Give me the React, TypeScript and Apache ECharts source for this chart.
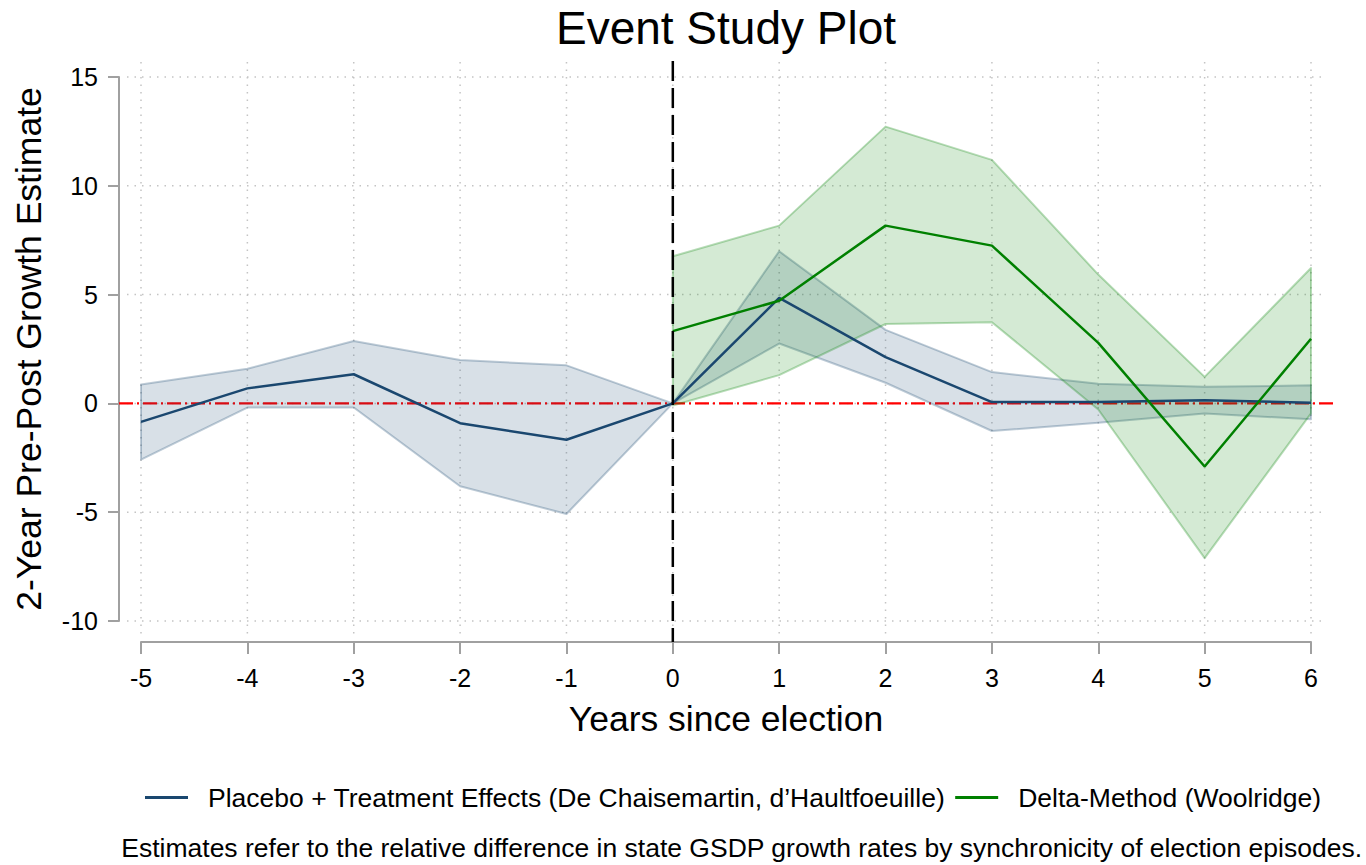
import React, { useEffect, useRef } from "react";
import * as echarts from "echarts";

// Event time (years relative to the election)
const years = [-5, -4, -3, -2, -1, 0, 1, 2, 3, 4, 5, 6];
// Placebo + treatment effects (de Chaisemartin & d'Haultfoeuille) with CI bounds
const placeboEst = [-0.85, 0.69, 1.34, -0.91, -1.67, 0, 4.85, 2.13, 0.06, 0.06, 0.14, 0.03];
const placeboLo = [-2.58, -0.19, -0.19, -3.81, -5.08, 0, 2.75, 0.95, -1.27, -0.89, -0.46, -0.73];
const placeboHi = [0.87, 1.59, 2.87, 1.99, 1.75, 0, 6.99, 3.38, 1.44, 0.9, 0.76, 0.83];

// Delta-method estimates (Woolridge) with CI bounds
const deltaYears = [0, 1, 2, 3, 4, 5, 6];
const deltaEst = [3.32, 4.72, 8.17, 7.25, 2.78, -2.9, 2.97];
const deltaLo = [-0.1, 1.3, 3.65, 3.73, -0.28, -7.11, -0.46];
const deltaHi = [6.76, 8.17, 12.72, 11.19, 5.92, 1.22, 6.22];

const yTicks = [-10, -5, 0, 5, 10, 15];
const xTicks = years;

const placeboName = "Placebo + Treatment Effects (De Chaisemartin, d\u2019Haultfoeuille)";
const deltaName = "Delta-Method (Woolridge)";

const FONT = "'Liberation Sans', Arial, sans-serif";
const NAVY = "#1a476f";
const GREEN = "#008000";
const AXIS_GRAY = "#a0a0a0";

const GRID = { left: 141, right: 55, top: 77, bottom: 244 };
const Y_OFFSET = 22;
const X_OFFSET = 21;

function bandSeries(xs: number[], lo: number[], hi: number[], fill: string, stroke: string, z: number) {
  return {
    type: "custom",
    z,
    silent: true,
    clip: false,
    data: xs.map((x, i) => [x, lo[i], hi[i]]),
    encode: { x: 0, y: [1, 2] },
    renderItem: (params: any, api: any) => {
      if (params.dataIndex !== 0) return null;
      const upper = xs.map((x, i) => api.coord([x, hi[i]]));
      const lower = xs.map((x, i) => api.coord([x, lo[i]])).reverse();
      return {
        type: "polygon",
        shape: { points: [...upper, ...lower] },
        style: { fill, stroke, lineWidth: 2, lineJoin: "round" },
      };
    },
  };
}

export default function App() {
  const ref = useRef<HTMLDivElement>(null);

  useEffect(() => {
    if (!ref.current) return;
    const chart = echarts.init(ref.current, null, { renderer: "svg" });

    const option: any = {
      animation: false,
      backgroundColor: "#ffffff",
      textStyle: { fontFamily: FONT },
      grid: { ...GRID },
      xAxis: {
        type: "value",
        min: -5,
        max: 6,
        interval: 1,
        offset: X_OFFSET,
        name: "Years since election",
        nameLocation: "middle",
        nameGap: 59,
        nameTextStyle: { fontSize: 35.5, color: "#000", fontFamily: FONT },
        axisLine: { show: true, onZero: false, lineStyle: { color: AXIS_GRAY, width: 2 } },
        axisTick: { show: true, length: 12, lineStyle: { color: AXIS_GRAY, width: 2 } },
        axisLabel: { fontSize: 25, color: "#000", margin: 23, fontFamily: FONT },
        splitLine: { show: false },
      },
      yAxis: {
        type: "value",
        min: -10,
        max: 15,
        interval: 5,
        offset: Y_OFFSET,
        name: "2-Year Pre-Post Growth Estimate",
        nameLocation: "middle",
        nameRotate: 90,
        nameGap: 72,
        nameTextStyle: { fontSize: 35.5, color: "#000", fontFamily: FONT },
        axisLine: { show: true, onZero: false, lineStyle: { color: AXIS_GRAY, width: 2 } },
        axisTick: { show: true, length: 11, lineStyle: { color: AXIS_GRAY, width: 2 } },
        axisLabel: { fontSize: 25, color: "#000", margin: 21, fontFamily: FONT },
        splitLine: { show: false },
      },
      legend: {
        data: [placeboName, deltaName],
        left: 140,
        top: 779,
        icon: "rect",
        itemWidth: 43,
        itemHeight: 3,
        itemGap: 10,
        selectedMode: false,
        textStyle: { fontSize: 26.5, color: "#000", fontFamily: FONT, padding: [0, 0, 0, 15] },
      },
      series: [
        bandSeries(years, placeboLo, placeboHi, "rgba(26,71,111,0.17)", "rgba(26,71,111,0.28)", 2),
        bandSeries(deltaYears, deltaLo, deltaHi, "rgba(0,128,0,0.17)", "rgba(0,128,0,0.28)", 2),
        {
          name: placeboName,
          type: "line",
          z: 3,
          data: years.map((x, i) => [x, placeboEst[i]]),
          showSymbol: false,
          symbol: "none",
          itemStyle: { color: NAVY },
          lineStyle: { color: NAVY, width: 2.5 },
        },
        {
          name: deltaName,
          type: "line",
          z: 3,
          data: deltaYears.map((x, i) => [x, deltaEst[i]]),
          showSymbol: false,
          symbol: "none",
          itemStyle: { color: GREEN },
          lineStyle: { color: GREEN, width: 2.5 },
        },
      ],
    };

    chart.setOption(option);

    const px = (x: number, y: number) => chart.convertToPixel({ gridIndex: 0 }, [x, y]) as number[];
    const xMin = xTicks[0];
    const xMax = xTicks[xTicks.length - 1];
    const yMin = yTicks[0];
    const yMax = yTicks[yTicks.length - 1];

    const gridStyle = { stroke: "#c4c4c4", lineWidth: 1.5, lineDash: [1.5, 6] };
    const graphics: any[] = [];

    yTicks.forEach((v) => {
      const a = px(xMin, v);
      const b = px(xMax, v);
      graphics.push({
        type: "line",
        z: 0,
        silent: true,
        shape: { x1: a[0] - 14, y1: a[1], x2: b[0] + 14, y2: b[1] },
        style: gridStyle,
      });
    });
    xTicks.forEach((v) => {
      const a = px(v, yMax);
      const b = px(v, yMin);
      graphics.push({
        type: "line",
        z: 0,
        silent: true,
        shape: { x1: a[0], y1: a[1] - 15, x2: b[0], y2: b[1] + 13 },
        style: gridStyle,
      });
    });

    // zero reference line
    const z0 = px(xMin, 0);
    const z1 = px(xMax, 0);
    graphics.push({
      type: "line",
      z: 1,
      silent: true,
      shape: { x1: z0[0] - Y_OFFSET, y1: z0[1], x2: z1[0] + 24, y2: z1[1] },
      style: { stroke: "#ff0000", lineWidth: 2.2, lineDash: [14, 4, 2, 4] },
    });

    // election year marker
    const e0 = px(0, yMax);
    const e1 = px(0, yMin);
    graphics.push({
      type: "line",
      z: 10,
      silent: true,
      shape: { x1: e0[0], y1: e0[1] - 16, x2: e1[0], y2: e1[1] + 21 },
      style: { stroke: "#000000", lineWidth: 2.5, lineDash: [20, 7] },
    });

    graphics.push({
      type: "text",
      z: 10,
      x: 726,
      y: 28,
      style: {
        text: "Event Study Plot",
        fontSize: 46,
        fontFamily: FONT,
        fill: "#000",
        align: "center",
        verticalAlign: "middle",
      },
    });

    graphics.push({
      type: "text",
      z: 10,
      x: 1362,
      y: 848,
      style: {
        text: "Estimates refer to the relative difference in state GSDP growth rates by synchronicity of election episodes.",
        fontSize: 26.5,
        fontFamily: FONT,
        fill: "#000",
        align: "right",
        verticalAlign: "middle",
      },
    });

    chart.setOption({ graphic: graphics });

    return () => {
      chart.dispose();
    };
  }, []);

  return (
    <div
      ref={ref}
      style={{ position: "fixed", left: 0, top: 0, width: 1366, height: 865, background: "#fff" }}
    />
  );
}
